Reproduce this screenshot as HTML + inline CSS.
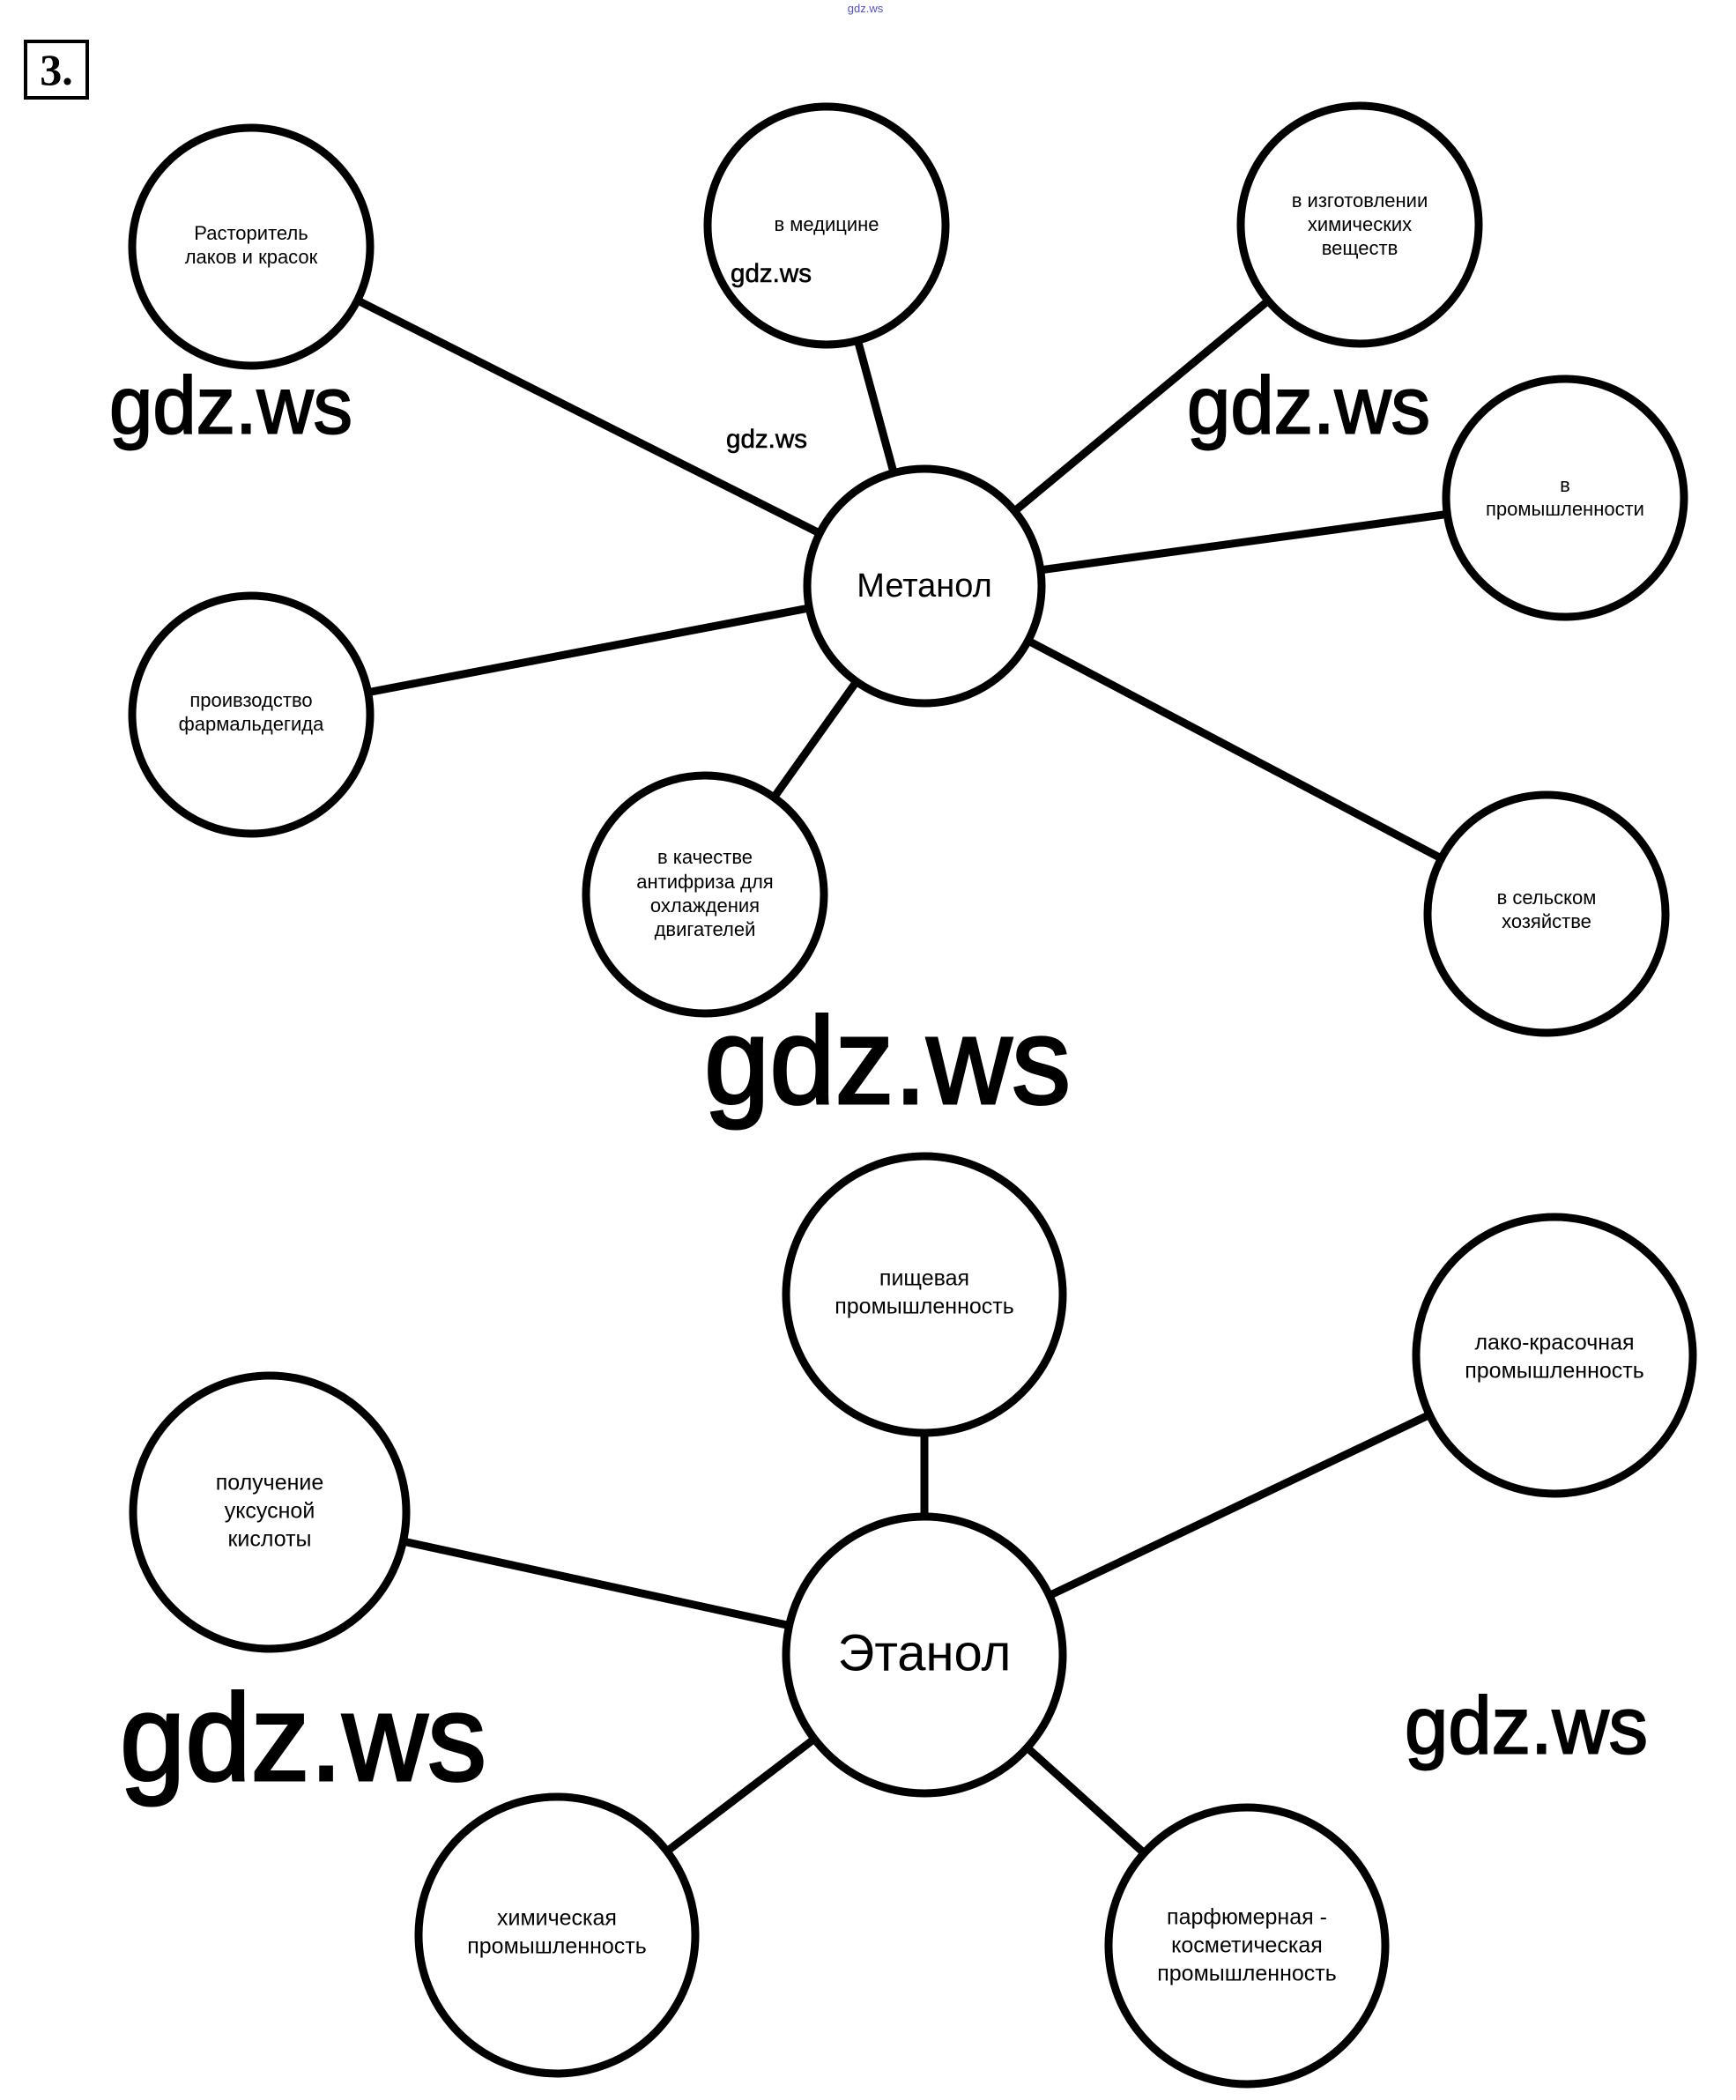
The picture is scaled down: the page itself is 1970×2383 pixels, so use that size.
<!DOCTYPE html>
<html><head><meta charset="utf-8"><style>
html,body{margin:0;padding:0;background:#fff;}
svg{display:block;}
text{font-family:"Liberation Sans","DejaVu Sans",sans-serif;fill:#000;}
</style></head><body>
<svg width="1970" height="2383" viewBox="0 0 1970 2383" xmlns="http://www.w3.org/2000/svg">
<rect width="1970" height="2383" fill="#fff"/>
<text x="982" y="14" font-size="13" style="fill:#5050d0" text-anchor="middle">gdz.ws</text>
<rect x="29" y="47" width="70" height="64" fill="none" stroke="#000" stroke-width="4"/>
<text x="64" y="96" font-size="50" font-weight="bold" text-anchor="middle" style="font-family:'Liberation Serif',serif">3.</text>
<g transform="translate(3,3)">
<g stroke="#000" stroke-width="9" stroke-linecap="butt">
<line x1="1046" y1="662" x2="282" y2="277"/>
<line x1="1046" y1="662" x2="935" y2="253"/>
<line x1="1046" y1="662" x2="1540" y2="252"/>
<line x1="1046" y1="662" x2="1773" y2="562"/>
<line x1="1046" y1="662" x2="282" y2="808"/>
<line x1="1046" y1="662" x2="797" y2="1012"/>
<line x1="1046" y1="662" x2="1752" y2="1034"/>
<line x1="1046" y1="1875" x2="1046" y2="1466"/>
<line x1="1046" y1="1875" x2="1761" y2="1535"/>
<line x1="1046" y1="1875" x2="303" y2="1713"/>
<line x1="1046" y1="1875" x2="629" y2="2193"/>
<line x1="1046" y1="1875" x2="1412" y2="2205"/>
</g>
<g fill="#fff" stroke="#000" stroke-width="9">
<circle cx="282" cy="277" r="135"/>
<circle cx="935" cy="253" r="135"/>
<circle cx="1540" cy="252" r="135"/>
<circle cx="1773" cy="562" r="135"/>
<circle cx="1046" cy="662" r="133"/>
<circle cx="282" cy="808" r="135"/>
<circle cx="797" cy="1012" r="135"/>
<circle cx="1752" cy="1034" r="135"/>
<circle cx="1046" cy="1466" r="157"/>
<circle cx="1761" cy="1535" r="157"/>
<circle cx="303" cy="1713" r="155"/>
<circle cx="1046" cy="1875" r="157"/>
<circle cx="629" cy="2193" r="157"/>
<circle cx="1412" cy="2205" r="157"/>
</g>
<g font-size="22" text-anchor="middle" dominant-baseline="middle">
<text x="282" y="263">Расторитель</text><text x="282" y="290">лаков и красок</text>
<text x="935" y="253">в медицине</text>
<text x="1540" y="226">в изготовлении</text><text x="1540" y="253">химических</text><text x="1540" y="280">веществ</text>
<text x="1773" y="549">в</text><text x="1773" y="576">промышленности</text>
<text x="282" y="793">проивзодство</text><text x="282" y="820">фармальдегида</text>
<text x="797" y="971">в качестве</text><text x="797" y="999">антифриза для</text><text x="797" y="1026">охлаждения</text><text x="797" y="1053">двигателей</text>
<text x="1752" y="1017">в сельском</text><text x="1752" y="1044">хозяйстве</text>
</g>
<g font-size="25" text-anchor="middle" dominant-baseline="middle">
<text x="1046" y="1449">пищевая</text><text x="1046" y="1481">промышленность</text>
<text x="1761" y="1522">лако-красочная</text><text x="1761" y="1554">промышленность</text>
<text x="303" y="1681">получение</text><text x="303" y="1713">уксусной</text><text x="303" y="1745">кислоты</text>
<text x="629" y="2175">химическая</text><text x="629" y="2207">промышленность</text>
<text x="1412" y="2174">парфюмерная -</text><text x="1412" y="2206">косметическая</text><text x="1412" y="2238">промышленность</text>
</g>
<text x="1046" y="664" font-size="38" text-anchor="middle" dominant-baseline="middle">Метанол</text>
<text x="1046" y="1877" font-size="58" text-anchor="middle" dominant-baseline="middle">Этанол</text>
<g dominant-baseline="middle" stroke="#000" stroke-width="2">
<text x="121" y="464" font-size="92" textLength="276" lengthAdjust="spacingAndGlyphs">gdz.ws</text>
<text x="1344" y="464" font-size="92" textLength="276" lengthAdjust="spacingAndGlyphs">gdz.ws</text>
<text x="826" y="309" font-size="30" stroke-width="0.6" textLength="92" lengthAdjust="spacingAndGlyphs">gdz.ws</text>
<text x="821" y="497" font-size="30" stroke-width="0.6" textLength="92" lengthAdjust="spacingAndGlyphs">gdz.ws</text>
<text x="796" y="1212" font-size="140" stroke-width="3" textLength="416" lengthAdjust="spacingAndGlyphs">gdz.ws</text>
<text x="133" y="1980" font-size="140" stroke-width="3" textLength="416" lengthAdjust="spacingAndGlyphs">gdz.ws</text>
<text x="1591" y="1962" font-size="92" textLength="276" lengthAdjust="spacingAndGlyphs">gdz.ws</text>
</g>
</g>
</svg>
</body></html>
